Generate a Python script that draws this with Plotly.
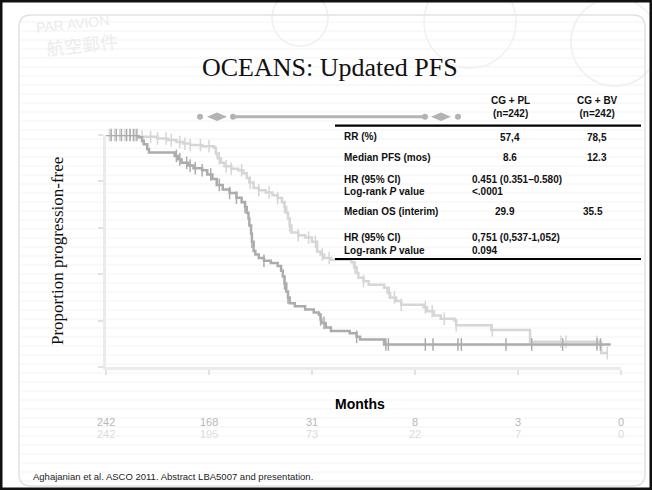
import numpy as np
import plotly.graph_objects as go

# ---- Kaplan-Meier step data (months, proportion progression-free) ----
pl_months = [0, 1.9, 2.1, 2.2, 2.4, 2.5, 4.0, 4.2, 4.4, 4.8, 5.1, 5.6, 5.9, 6.2, 6.45,
             6.8, 7.2, 7.6, 7.9, 8.1, 8.2, 8.3, 8.35, 8.45, 8.5, 8.6, 8.7, 8.9, 9.2,
             9.6, 10.0, 10.2, 10.3, 10.4, 10.5, 10.6, 10.7, 11.0, 11.6, 12.1, 12.4,
             12.5, 12.55, 12.8, 13.1, 14.2, 14.6, 14.8, 16.2, 29.4]
pl_surv = [1.0, 0.99, 0.975, 0.96, 0.94, 0.925, 0.91, 0.895, 0.88, 0.868, 0.857,
           0.848, 0.83, 0.81, 0.785, 0.765, 0.75, 0.73, 0.71, 0.69, 0.665, 0.64,
           0.61, 0.575, 0.54, 0.5, 0.485, 0.47, 0.458, 0.448, 0.435, 0.415, 0.39,
           0.36, 0.325, 0.3, 0.275, 0.262, 0.248, 0.235, 0.225, 0.205, 0.19, 0.17,
           0.155, 0.145, 0.13, 0.118, 0.097, 0.097]
pl_censored = [0.3, 0.6, 0.9, 1.2, 1.4, 1.6, 1.8, 4.1, 4.3, 4.7, 4.9, 5.2, 5.6, 6.1,
               6.6, 7.2, 7.6, 8.1, 8.5, 9.2, 10.4, 10.6, 12.5, 12.7, 14.6, 16.3,
               16.45, 18.6, 19.05, 20.5, 20.7, 23.3, 24.8, 26.6, 28.6, 28.8]

bv_months = [0, 1.9, 3.0, 3.6, 4.1, 4.5, 4.9, 5.6, 6.3, 6.4, 6.5, 6.7, 6.9, 7.3, 7.7,
             8.0, 8.2, 8.35, 8.6, 8.9, 9.3, 9.7, 10.0, 10.25, 10.4, 10.5, 10.6,
             10.7, 10.8, 11.2, 11.6, 12.0, 12.3, 12.5, 12.7, 13.1, 14.3, 14.45,
             14.6, 14.7, 15.0, 15.3, 16.2, 16.4, 16.55, 16.9, 17.2, 18.5, 18.7,
             19.1, 19.5, 20.3, 20.4, 22.45, 24.7, 28.85, 29.2]
bv_surv = [1.0, 0.992, 0.985, 0.978, 0.97, 0.963, 0.957, 0.952, 0.945, 0.92, 0.9,
           0.88, 0.865, 0.855, 0.848, 0.835, 0.815, 0.795, 0.772, 0.762, 0.752,
           0.74, 0.728, 0.71, 0.69, 0.665, 0.64, 0.61, 0.58, 0.568, 0.558, 0.54,
           0.498, 0.485, 0.47, 0.462, 0.452, 0.43, 0.405, 0.385, 0.37, 0.355,
           0.342, 0.32, 0.3, 0.285, 0.268, 0.258, 0.24, 0.222, 0.208, 0.2, 0.18,
           0.159, 0.109, 0.06, 0.06]
bv_censored = [0.2, 0.5, 0.8, 1.1, 1.4, 1.7, 2.1, 2.6, 3.0, 3.5, 3.8, 4.3, 4.6, 4.9,
               5.5, 6.0, 6.6, 7.0, 7.3, 7.9, 8.4, 8.9, 9.5, 10.0, 10.4, 10.7, 11.2,
               11.8, 12.2, 12.6, 13.0, 14.5, 15.0, 16.5, 16.8, 17.2, 18.6, 19.0,
               19.7, 20.4, 22.5, 26.5, 26.8, 28.6, 29.2]

# ---- number at risk ----
risk_months = [0, 6, 12, 18, 24, 30]
risk_pl = [242, 168, 31, 8, 3, 0]
risk_bv = [242, 195, 73, 22, 7, 0]

# ---- summary table ----
arm_headers = ["CG + PL<br>(n=242)", "CG + BV<br>(n=242)"]
rr = ["57,4", "78,5"]
median_pfs = ["8.6", "12.3"]
hr_pfs = "0.451 (0.351–0.580)"
p_pfs = "<.0001"
median_os = ["29.9", "35.5"]
hr_os = "0,751 (0,537-1,052)"
p_os = "0.094"

W, H = 652, 490
L, R, T, B = 106, 31, 135, 123
PW, PH = W - L - R, H - T - B

def px(x):
    return (x - L) / PW

def py(y):
    return (H - B - y) / PH

def level(times, surv, t):
    idx = np.searchsorted(np.asarray(times), t, side="right") - 1
    return float(np.asarray(surv)[idx])

DARK = "#acacac"
LIGHT = "#d6d6d6"

fig = go.Figure()
for name, t, s, cens, col in [("CG + BV", bv_months, bv_surv, bv_censored, LIGHT),
                              ("CG + PL", pl_months, pl_surv, pl_censored, DARK)]:
    fig.add_trace(go.Scatter(x=t, y=s, mode="lines", line=dict(color=col, width=2.5, shape="hv"),
                             name=name, showlegend=False, cliponaxis=False, hoverinfo="skip"))
    fig.add_trace(go.Scatter(x=cens, y=[level(t, s, c) for c in cens], mode="markers",
                             marker=dict(symbol="line-ns", size=9, line=dict(color=col, width=1.5)),
                             showlegend=False, cliponaxis=False, hoverinfo="skip"))

shapes = []
# ruled paper background
for y in range(22, 484, 9):
    shapes.append(dict(type="line", xref="paper", yref="paper", x0=px(20), x1=px(644),
                       y0=py(y), y1=py(y), line=dict(color="#f3f3f3", width=1), layer="below"))
# faint postal stamps at the top
for cx, cy, r in [(470, 22, 46), (615, 42, 44), (300, 18, 28)]:
    shapes.append(dict(type="circle", xref="paper", yref="paper", x0=px(cx - r), x1=px(cx + r),
                       y0=py(cy + r), y1=py(cy - r), line=dict(color="#f0f0f0", width=1.5), layer="below"))
# rounded slide panel
x0, x1, y0, y1, rr_ = 19, 645, 15, 486, 12
path = (f"M {px(x0 + rr_)} {py(y0)} L {px(x1 - rr_)} {py(y0)} Q {px(x1)} {py(y0)} {px(x1)} {py(y0 + rr_)} "
        f"L {px(x1)} {py(y1 - rr_)} Q {px(x1)} {py(y1)} {px(x1 - rr_)} {py(y1)} "
        f"L {px(x0 + rr_)} {py(y1)} Q {px(x0)} {py(y1)} {px(x0)} {py(y1 - rr_)} "
        f"L {px(x0)} {py(y0 + rr_)} Q {px(x0)} {py(y0)} {px(x0 + rr_)} {py(y0)} Z")
shapes.append(dict(type="path", xref="paper", yref="paper", path=path,
                   line=dict(color="#e2e2e2", width=1.5), layer="below"))
# outer frame
shapes.append(dict(type="rect", xref="paper", yref="paper", x0=px(1), x1=px(651), y0=py(1), y1=py(489),
                   line=dict(color="#111111", width=3)))
# ornament bar under the title
shapes.append(dict(type="line", xref="paper", yref="paper", x0=px(233), x1=px(425), y0=py(116.7), y1=py(116.7),
                   line=dict(color="#b3b3b3", width=3)))
for cx in [200, 233, 425, 458]:
    shapes.append(dict(type="circle", xref="paper", yref="paper", x0=px(cx - 3), x1=px(cx + 3),
                       y0=py(116.7 + 3), y1=py(116.7 - 3), fillcolor="#b3b3b3", line=dict(width=0)))
for cx in [217, 441]:
    shapes.append(dict(type="path", xref="paper", yref="paper",
                       path=f"M {px(cx - 10)} {py(116.7)} L {px(cx)} {py(112.5)} L {px(cx + 10)} {py(116.7)} L {px(cx)} {py(121)} Z",
                       fillcolor="#b3b3b3", line=dict(width=0)))
# table rules
for y in [125.7, 259]:
    shapes.append(dict(type="line", xref="paper", yref="paper", x0=px(335), x1=px(641), y0=py(y), y1=py(y),
                       line=dict(color="#000000", width=2.2)))

ann = []

def text(x, y, s, size=10, bold=True, anchor="left", color="#111111", family="Arial, Liberation Sans, sans-serif", **kw):
    ann.append(dict(xref="paper", yref="paper", x=px(x), y=py(y), text=f"<b>{s}</b>" if bold else s,
                    showarrow=False, xanchor=anchor, yanchor="middle",
                    font=dict(size=size, color=color, family=family), **kw))

text(330, 67, "OCEANS: Updated PFS", size=26, bold=False, anchor="center",
     family="Liberation Serif, Times New Roman, serif")
text(57, 251, "Proportion progression-free", size=17, bold=False, anchor="center",
     family="Liberation Serif, Times New Roman, serif", textangle=-90)
text(360, 404, "Months", size=14, anchor="center", color="#000000")
text(31, 476, "Aghajanian et al. ASCO 2011. Abstract LBA5007 and presentation.", size=9.5,
     bold=False, color="#222222")
# postal watermark lettering
text(72, 24, "PAR AVION", size=14, bold=False, anchor="center", color="#ebebeb", textangle=-6)
text(82, 44, "航空郵件", size=18, bold=False, anchor="center", color="#ececec",
     family="Noto Sans CJK TC, sans-serif", textangle=-6)

# table
text(510, 106.5, arm_headers[0], size=10, anchor="center", align="center")
text(597, 106.5, arm_headers[1], size=10, anchor="center", align="center")
text(342, 136, "RR (%)")
text(510, 137, rr[0], anchor="center")
text(597, 137, rr[1], anchor="center")
text(342, 157.5, "Median PFS (mos)")
text(510, 157.5, median_pfs[0], anchor="center")
text(597, 157.5, median_pfs[1], anchor="center")
text(342, 179, "HR (95% CI)")
text(342, 191, "Log-rank <i>P</i> value")
text(470, 179, hr_pfs)
text(470, 191, p_pfs)
text(342, 211, "Median OS (interim)")
text(505, 211, median_os[0], anchor="center")
text(593, 211, median_os[1], anchor="center")
text(342, 237, "HR (95% CI)")
text(342, 250, "Log-rank <i>P</i> value")
text(470, 237, hr_os)
text(470, 250, p_os)

# number at risk rows
for m, a, b in zip(risk_months, risk_pl, risk_bv):
    ann.append(dict(xref="x", yref="paper", x=m, y=py(421.5), text=str(a), showarrow=False,
                    xanchor="center", yanchor="middle",
                    font=dict(size=11, color="#b8b8b8", family="Arial, Liberation Sans, sans-serif")))
    ann.append(dict(xref="x", yref="paper", x=m, y=py(434), text=str(b), showarrow=False,
                    xanchor="center", yanchor="middle",
                    font=dict(size=11, color="#dcdcdc", family="Arial, Liberation Sans, sans-serif")))

fig.update_layout(
    width=W, height=H,
    margin=dict(l=L, r=R, t=T, b=B),
    paper_bgcolor="#ffffff", plot_bgcolor="rgba(0,0,0,0)",
    shapes=shapes, annotations=ann, showlegend=False,
    xaxis=dict(range=[0, 30], tickvals=risk_months, showticklabels=False, ticks="outside",
               ticklen=5, tickcolor="#e2e2e2", tickwidth=1.5, showline=True, linecolor="#ebebeb",
               linewidth=2.5, showgrid=False, zeroline=False, fixedrange=True),
    yaxis=dict(range=[0, 1], tickvals=[0, 0.2, 0.4, 0.6, 0.8, 1.0], showticklabels=False,
               ticks="outside", ticklen=5, tickcolor="#e2e2e2", tickwidth=1.5, showline=True,
               linecolor="#ebebeb", linewidth=2.5, showgrid=False, zeroline=False, fixedrange=True),
)

fig.write_html("out.html")
